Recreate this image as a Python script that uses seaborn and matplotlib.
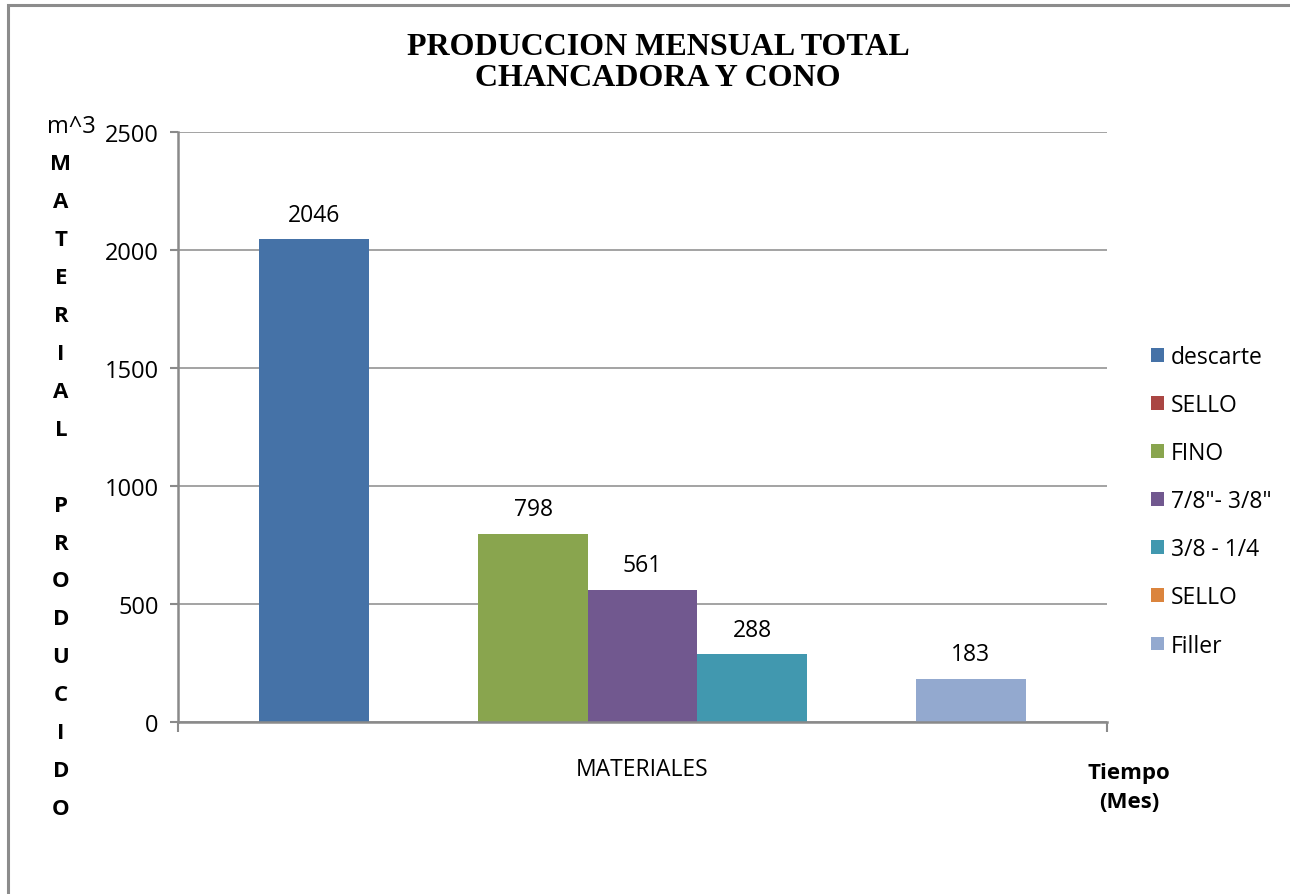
import matplotlib
matplotlib.use("Agg")
import matplotlib.pyplot as plt
import seaborn as sns
import pandas as pd
from matplotlib.patches import Rectangle

# Data
category = ["MATERIALES"]
series_names = ["descarte", "SELLO", "FINO", "7/8\"- 3/8\"", "3/8 - 1/4", "SELLO", "Filler"]
series_values = [2046, 0, 798, 561, 288, 0, 183]
series_colors = ["#4572A7", "#AA4643", "#89A54E", "#71588F", "#4198AF", "#DB843D", "#93A9CF"]
y_ticks = [0, 500, 1000, 1500, 2000, 2500]

sns.set_theme(style="white")
plt.rcParams["font.family"] = ["Open Sans", "DejaVu Sans"]

W, H = 1290, 895
fig = plt.figure(figsize=(W / 100, H / 100), dpi=100)
fig.patch.set_facecolor("white")

# outer chart frame (left and top edges visible)
fig.patches.append(Rectangle((8 / W, -0.05), 1.2, 1 - 6 / H + 0.05,
                             transform=fig.transFigure, fill=False,
                             edgecolor="#8c8c8c", linewidth=2.2))

ax = fig.add_axes([178 / W, 1 - 723 / H, (1107 - 178) / W, (723 - 133) / H])

keys = [f"s{i}" for i in range(len(series_names))]
df = pd.DataFrame({"cat": category * len(keys), "serie": keys, "valor": series_values})
palette = dict(zip(keys, series_colors))

sns.barplot(data=df, x="cat", y="valor", hue="serie", hue_order=keys,
            palette=palette, width=0.825, dodge=True, saturation=1,
            edgecolor="none", linewidth=0, ax=ax, legend=False)

ax.set_xlim(-0.5, 0.5)
ax.set_ylim(0, 2500)
ax.set_yticks(y_ticks)
ax.set_yticklabels([str(v) for v in y_ticks], fontsize=17, color="black")
ax.yaxis.grid(True, color="#8a8a8a", linewidth=1.1)
ax.set_axisbelow(True)

for side in ["top", "right"]:
    ax.spines[side].set_visible(False)
for side in ["left", "bottom"]:
    ax.spines[side].set_color("#8a8a8a")
    ax.spines[side].set_linewidth(1.8)

ax.tick_params(axis="y", which="major", length=6, width=1.5, color="#8a8a8a",
               direction="out", left=True, pad=8)
ax.set_xticks([0])
ax.set_xticklabels(category, fontsize=16.5, color="black")
ax.tick_params(axis="x", which="major", length=0, pad=25)
ax.set_xticks([-0.5, 0.5], minor=True)
ax.tick_params(axis="x", which="minor", length=7, width=1.5, color="#8a8a8a",
               direction="out", bottom=True)
ax.set_xlabel("")
ax.set_ylabel("")

# value labels above non-zero bars
bars = [p for p in ax.patches if isinstance(p, Rectangle)]
for bar, val in zip(bars, series_values):
    if val > 0:
        ax.annotate(f"{val}", (bar.get_x() + bar.get_width() / 2, val),
                    xytext=(0, 9), textcoords="offset points",
                    ha="center", va="bottom", fontsize=16.5, color="black")

# legend
handles = [Rectangle((0, 0), 1, 1, facecolor=c, edgecolor="none") for c in series_colors]
leg = ax.legend(handles, series_names, loc="upper left",
                bbox_to_anchor=(1142 / W, 1 - 337 / H), bbox_transform=fig.transFigure,
                frameon=False, fontsize=16.5, handlelength=0.55, handleheight=0.55,
                handletextpad=0.32, labelspacing=1.05, borderaxespad=0)
for t in leg.get_texts():
    t.set_color("black")

# title
fig.text(658 / W, 1 - 63 / H, "PRODUCCION MENSUAL TOTAL\nCHANCADORA Y CONO",
         ha="center", va="center", fontsize=23, fontweight="bold", color="black",
         family="Liberation Serif", linespacing=1.1)

# units and vertical axis caption
fig.text(47 / W, 1 - 127 / H, "m^3", ha="left", va="center", fontsize=17, color="black")
caption = "MATERIAL PRODUCIDO"
y0, step = 165, 37.9
for i, ch in enumerate(caption):
    if ch != " ":
        fig.text(61 / W, 1 - (y0 + i * step) / H, ch, ha="center", va="center",
                 fontsize=16, fontweight="bold", color="black")

# time caption on the right
fig.text(1129 / W, 1 - 788 / H, "Tiempo\n(Mes)", ha="center", va="center",
         fontsize=16, fontweight="bold", color="black", linespacing=1.45)

fig.savefig("out.png", dpi=100, facecolor="white")
